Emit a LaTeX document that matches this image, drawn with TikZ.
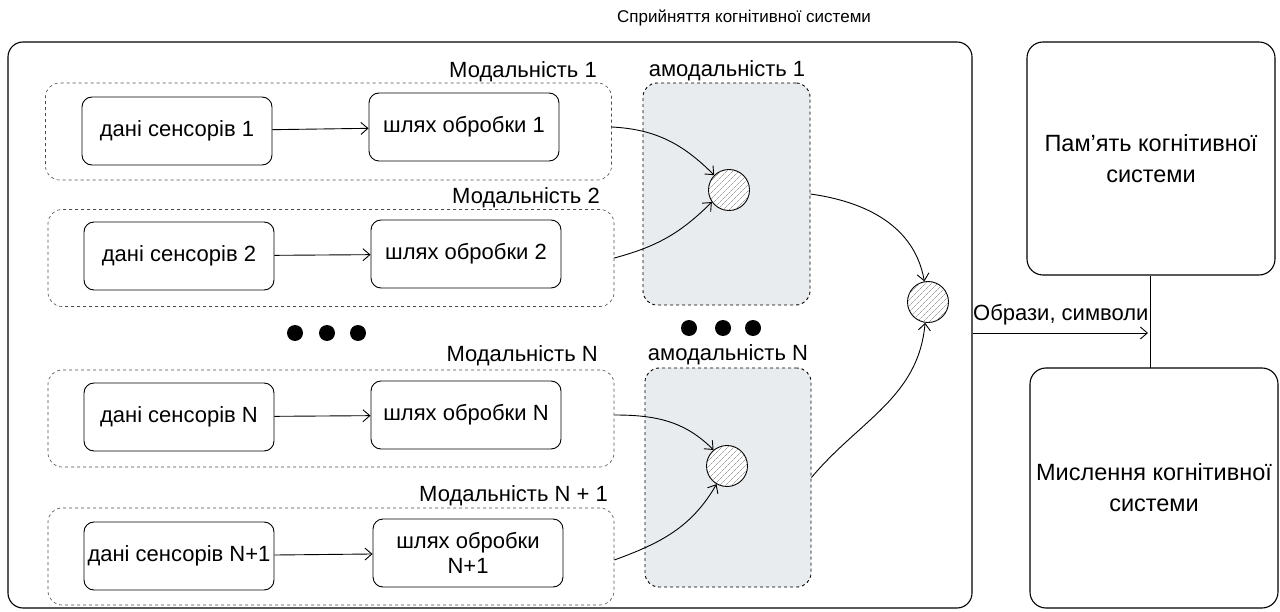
\documentclass[tikz,border=0pt]{standalone}
\usepackage{fontspec}
\setmainfont{Liberation Sans}
\usetikzlibrary{arrows.meta,patterns.meta}
\begin{document}
\begin{tikzpicture}[x=1pt,y=-1pt,
  txt/.style={font=\fontsize{22}{29}\selectfont},
  bigtxt/.style={font=\fontsize{23.5}{31}\selectfont},
  box/.style={draw, line width=0.9pt, rounded corners=10pt, minimum width=190pt, minimum height=68pt, align=center, inner sep=1pt, txt},
  modal/.style={draw=black!70, dashed, line width=0.6pt, rounded corners=14pt, minimum width=566pt, minimum height=97pt},
  amodal/.style={draw, fill=amfill, dashed, line width=0.9pt, rounded corners=14pt},
  big/.style={draw, line width=1.1pt, rounded corners=16pt, align=center, bigtxt},
  hatch/.style={circle, draw, line width=0.9pt, minimum size=41pt, inner sep=0pt, fill=white,
     postaction={pattern={Lines[angle=45,distance=4pt,line width=0.4pt]}, pattern color=black!55}},
  dot/.style={circle, fill=black, minimum size=16pt, inner sep=0pt},
  arr/.style={line width=0.9pt, -{Straight Barb[length=7pt,width=12pt]}},
  lbl/.style={txt, inner sep=0pt}
]
\definecolor{amfill}{HTML}{E9ECEF}
\useasboundingbox (0,0) rectangle (1280,612);

% title
\node[font=\fontsize{17}{22}\selectfont, inner sep=0pt] (title) at (744,18) {Сприйняття когнітивної системи};

% outer box
\node[draw, line width=1.1pt, rounded corners=15pt, minimum width=964pt, minimum height=566pt] (outer) at (490,325) {};

% modality containers
\node[modal] (m1) at (328.5,131.5) {};
\node[modal] (m2) at (331,258) {};
\node[modal] (mN) at (331,418.5) {};
\node[modal] (mN1) at (331,556.5) {};

\node[lbl, anchor=base east] (lm1) at (597,78) {Модальність 1};
\node[lbl, anchor=base east] (lm2) at (600,204) {Модальність 2};
\node[lbl, anchor=base east] (lmN) at (598,361) {Модальність N};
\node[lbl, anchor=base east] (lmN1) at (608,501) {Модальність N + 1};

% sensor and processing boxes
\node[box] (s1) at (177,131) {дані сенсорів 1};
\node[box] (p1) at (464,127) {шлях обробки 1};
\node[box] (s2) at (179,256) {дані сенсорів 2};
\node[box] (p2) at (466,254) {шлях обробки 2};
\node[box] (sN) at (179,417) {дані сенсорів N};
\node[box] (pN) at (466,415) {шлях обробки N};
\node[box] (sN1) at (179,556) {дані сенсорів N+1};
\node[box, font=\fontsize{22}{25}\selectfont] (pN1) at (468,553) {шлях обробки\\N+1};

\draw[arr] (s1) -- (p1);
\draw[arr] (s2) -- (p2);
\draw[arr] (sN) -- (pN);
\draw[arr] (sN1) -- (pN1);

% dots
\node[dot] (d1) at (295,333) {};
\node[dot] (d2) at (327,333) {};
\node[dot] (d3) at (358,333) {};
\node[dot] (e1) at (689,328) {};
\node[dot] (e2) at (723,328) {};
\node[dot] (e3) at (753,328) {};

% amodal boxes
\node[amodal, minimum width=167pt, minimum height=222pt] (a1) at (726.5,194) {};
\node[amodal, minimum width=166pt, minimum height=219pt] (aN) at (728,477.5) {};
\node[lbl] (la1) at (727,71) {амодальність 1};
\node[lbl] (laN) at (728,355) {амодальність N};

% hatched circles
\node[hatch] (c1) at (729,190) {};
\node[hatch] (cN) at (727,466) {};
\node[hatch] (c0) at (928,302) {};

% connections into amodal
\draw[arr] (m1.east |- p1) to[out=-3,in=135] (c1.135);
\draw[arr] (m2.east |- 0,258) to[out=15,in=225] (c1.215);
\draw[arr] (mN.east |- pN) to[out=0,in=135] (cN.130);
\draw[arr] (mN1.east |- 0,560) to[out=20,in=240] (cN.240);

\draw[arr] (a1.east) to[out=-8,in=100] (c0.100);
\draw[arr] (aN.east) to[out=50,in=265] (c0.262);

% right boxes
\node[big, minimum width=248pt, minimum height=233pt] (mem) at (1151,158.5) {Пам'ять когнітивної\\системи};
\node[big, minimum width=248pt, minimum height=240pt] (think) at (1154,488) {Мислення когнітивної\\системи};

\draw[line width=0.8pt] (mem.south -| 1150,0) -- (1150,368) coordinate (tn);
\coordinate (j) at (1148,333);
\draw[arr] (outer.east |- j) -- (j);
\node[lbl, anchor=base west] (lab) at (973,320) {Образи, символи};
\end{tikzpicture}
\end{document}
